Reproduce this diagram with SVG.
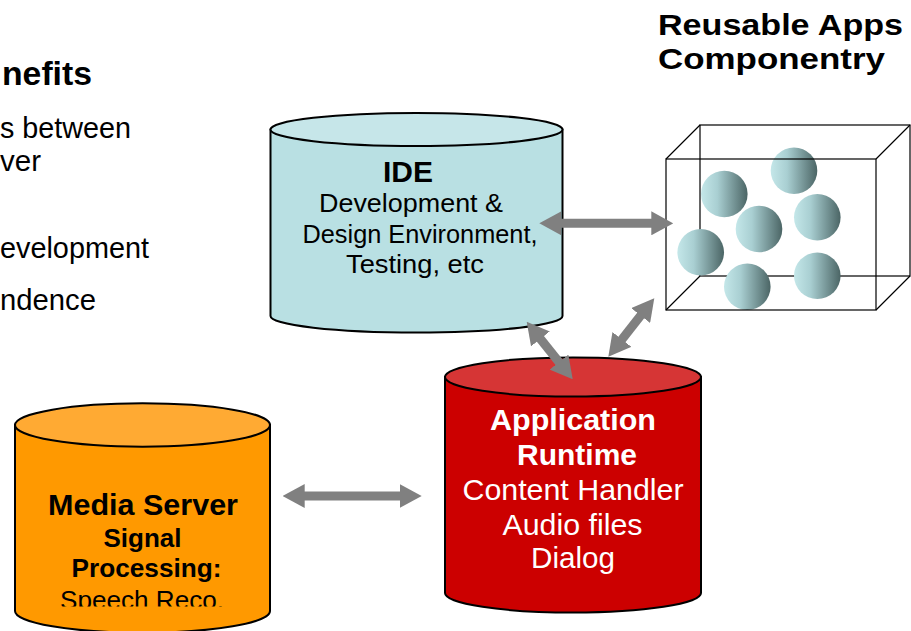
<svg xmlns="http://www.w3.org/2000/svg" width="911" height="631" viewBox="0 0 911 631">
  <style>
    .t { font-family: "Liberation Sans", Arial, sans-serif; }
    .b { font-weight: bold; }
    .blk { fill: #000; }
    .wht { fill: #fff; }
    .cyl { stroke: #000; stroke-width: 2; }
    .cube { fill: none; stroke: #000; stroke-width: 1.2; }
    .conn { stroke: #808080; stroke-width: 9; fill: none; marker-start: url(#ah); marker-end: url(#ah); }
  </style>
  <defs>
    <marker id="ah" markerUnits="userSpaceOnUse" markerWidth="22" markerHeight="24" viewBox="0 0 22 24" refX="1" refY="12" orient="auto-start-reverse">
      <path d="M0,0 L22,12 L0,24 Z" fill="#808080"/>
    </marker>
    <linearGradient id="ball" x1="0" y1="0" x2="1" y2="0">
      <stop offset="0" stop-color="#C4E7E9"/>
      <stop offset="0.35" stop-color="#A9CFD2"/>
      <stop offset="1" stop-color="#4B6565"/>
    </linearGradient>
    <clipPath id="mclip">
      <rect x="0" y="400" width="300" height="206.5"/>
    </clipPath>
  </defs>
  <rect width="911" height="631" fill="#fff"/>

  <g id="benefits" class="t blk">
    <text class="b" x="2" y="85" font-size="33" textLength="90" lengthAdjust="spacingAndGlyphs">nefits</text>
    <text x="0" y="138" font-size="29" textLength="131" lengthAdjust="spacingAndGlyphs">s between</text>
    <text x="0" y="171" font-size="29" textLength="41" lengthAdjust="spacingAndGlyphs">ver</text>
    <text x="0" y="258" font-size="29" textLength="149" lengthAdjust="spacingAndGlyphs">evelopment</text>
    <text x="0" y="310" font-size="29" textLength="96" lengthAdjust="spacingAndGlyphs">ndence</text>
  </g>

  <g id="components">
    <text class="t b blk" x="658" y="34.5" font-size="30" textLength="245" lengthAdjust="spacingAndGlyphs">Reusable Apps</text>
    <text class="t b blk" x="658" y="68.5" font-size="30" textLength="227" lengthAdjust="spacingAndGlyphs">Componentry</text>
    <rect class="cube" x="700" y="125" width="210" height="151"/>
    <circle cx="724.3" cy="194" r="23.3" fill="url(#ball)"/>
    <circle cx="794" cy="170.7" r="23.3" fill="url(#ball)"/>
    <circle cx="759" cy="229" r="23.3" fill="url(#ball)"/>
    <circle cx="817.3" cy="217.3" r="23.3" fill="url(#ball)"/>
    <circle cx="700.7" cy="252.3" r="23.3" fill="url(#ball)"/>
    <circle cx="747.3" cy="286.7" r="23.3" fill="url(#ball)"/>
    <circle cx="817.3" cy="275.7" r="23.3" fill="url(#ball)"/>
    <rect class="cube" x="666" y="159" width="210" height="151"/>
    <path class="cube" d="M666,159 L700,125 M876,159 L910,125 M876,310 L910,276 M666,310 L700,276"/>
  </g>

  <g id="ide">
    <path class="cyl" fill="#B9E0E3" d="M270.5,129.5 V316 A146 16.5 0 0 0 562.5,316 V129.5 Z"/>
    <ellipse class="cyl" cx="416.5" cy="129.5" rx="146" ry="16.5" fill="#C6E6E9"/>
    <text class="t b blk" x="408" y="182" font-size="29" text-anchor="middle" textLength="50" lengthAdjust="spacingAndGlyphs">IDE</text>
    <text class="t blk" x="411" y="212" font-size="25.5" text-anchor="middle" textLength="184" lengthAdjust="spacingAndGlyphs">Development &amp;</text>
    <text class="t blk" x="420" y="243" font-size="25.5" text-anchor="middle" textLength="235" lengthAdjust="spacingAndGlyphs">Design Environment,</text>
    <text class="t blk" x="415" y="273" font-size="25.5" text-anchor="middle" textLength="138" lengthAdjust="spacingAndGlyphs">Testing, etc</text>
  </g>

  <g id="runtime">
    <path class="cyl" fill="#CC0000" d="M445,377 V593 A128 19.6 0 0 0 701,593 V377 Z"/>
    <ellipse class="cyl" cx="573" cy="377" rx="128" ry="19.6" fill="#D63535"/>
    <text class="t b wht" x="573" y="430" font-size="30" text-anchor="middle" textLength="166" lengthAdjust="spacingAndGlyphs">Application</text>
    <text class="t b wht" x="577" y="465" font-size="30" text-anchor="middle" textLength="120" lengthAdjust="spacingAndGlyphs">Runtime</text>
    <text class="t wht" x="573" y="500" font-size="30" text-anchor="middle" textLength="221" lengthAdjust="spacingAndGlyphs">Content Handler</text>
    <text class="t wht" x="572.5" y="535" font-size="30" text-anchor="middle" textLength="140" lengthAdjust="spacingAndGlyphs">Audio files</text>
    <text class="t wht" x="573" y="568" font-size="30" text-anchor="middle" textLength="84" lengthAdjust="spacingAndGlyphs">Dialog</text>
  </g>

  <g id="media">
    <path class="cyl" fill="#FF9900" d="M15,425 V611 A127.5 21.7 0 0 0 270,611 V425 Z"/>
    <ellipse class="cyl" cx="142.5" cy="425" rx="127.5" ry="21.7" fill="#FFAA33"/>
    <text class="t b blk" x="143" y="515" font-size="30" text-anchor="middle" textLength="190" lengthAdjust="spacingAndGlyphs">Media Server</text>
    <text class="t b blk" x="142.5" y="547" font-size="26" text-anchor="middle" textLength="78" lengthAdjust="spacingAndGlyphs">Signal</text>
    <text class="t b blk" x="146.5" y="577" font-size="26" text-anchor="middle" textLength="150" lengthAdjust="spacingAndGlyphs">Processing:</text>
    <text class="t blk" x="142" y="609" font-size="26" text-anchor="middle" textLength="164" lengthAdjust="spacingAndGlyphs" clip-path="url(#mclip)">Speech Reco.</text>
  </g>

  <g id="connectors">
    <line class="conn" x1="560.3" y1="223.3" x2="652.3" y2="223.3"/>
    <line class="conn" x1="303.7" y1="496" x2="400.7" y2="496"/>
    <line class="conn" x1="539.8" y1="338.1" x2="559.6" y2="362.9"/>
    <line class="conn" x1="621.3" y1="340.2" x2="641.3" y2="314.8"/>
  </g>
</svg>
